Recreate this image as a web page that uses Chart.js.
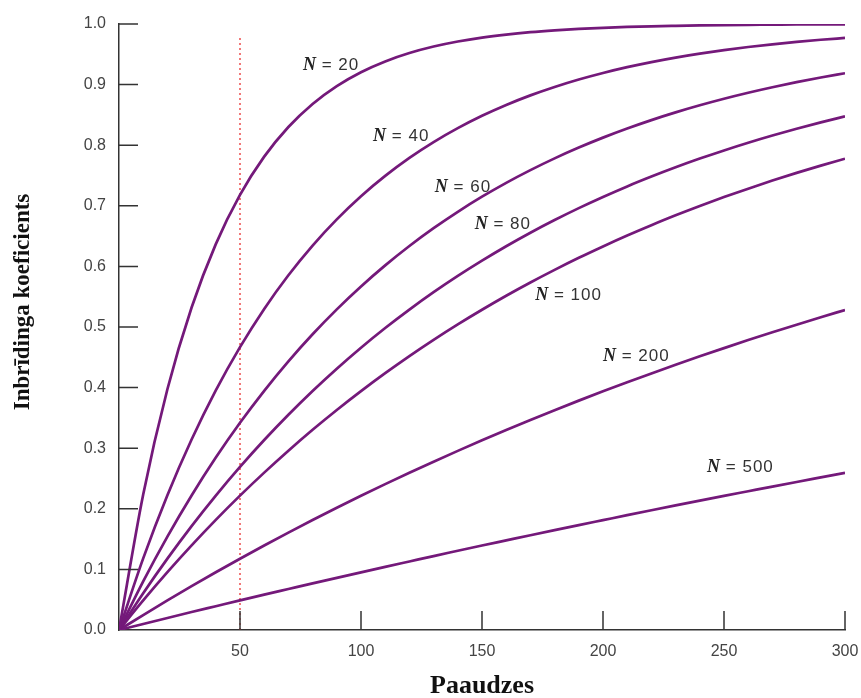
<!DOCTYPE html>
<html>
<head>
<meta charset="utf-8">
<script src="https://cdn.jsdelivr.net/npm/chart.js@4.4.0/dist/chart.umd.min.js"></script>
<style>
  body { margin: 0; background: #fff; }
  #wrap { width: 861px; height: 698px; }
</style>
</head>
<body>
<div id="wrap"><canvas id="mycanvas" width="861" height="698"></canvas></div>
<script>
// generations (x axis)
var generations = [0,10,20,30,40,50,60,70,80,90,100,110,120,130,140,150,160,170,180,190,200,210,220,230,240,250,260,270,280,290,300];

// inbreeding coefficient
var n20  = [0,0.2237,0.3973,0.5321,0.6368,0.7180,0.7811,0.8300,0.8681,0.8976,0.9205,0.9383,0.9521,0.9628,0.9711,0.9776,0.9826,0.9865,0.9895,0.9919,0.9937,0.9951,0.9962,0.9970,0.9977,0.9982,0.9986,0.9989,0.9992,0.9994,0.9995];
var n40  = [0,0.1182,0.2224,0.3143,0.3954,0.4668,0.5299,0.5854,0.6344,0.6776,0.7158,0.7493,0.7790,0.8051,0.8281,0.8485,0.8664,0.8822,0.8961,0.9084,0.9192,0.9288,0.9372,0.9446,0.9511,0.9569,0.9620,0.9665,0.9705,0.9740,0.9770];
var n60  = [0,0.0803,0.1541,0.2220,0.2845,0.3419,0.3947,0.4433,0.4880,0.5291,0.5669,0.6017,0.6337,0.6631,0.6901,0.7150,0.7379,0.7589,0.7783,0.7961,0.8125,0.8275,0.8414,0.8541,0.8658,0.8766,0.8865,0.8956,0.9040,0.9117,0.9188];
var n80  = [0,0.0608,0.1178,0.1715,0.2218,0.2691,0.3135,0.3552,0.3944,0.4312,0.4658,0.4983,0.5287,0.5574,0.5843,0.6095,0.6333,0.6556,0.6765,0.6962,0.7146,0.7320,0.7482,0.7635,0.7779,0.7914,0.8041,0.8160,0.8272,0.8377,0.8475];
var n100 = [0,0.0489,0.0954,0.1396,0.1817,0.2217,0.2597,0.2959,0.3304,0.3631,0.3942,0.4238,0.4520,0.4788,0.5043,0.5285,0.5516,0.5735,0.5943,0.6142,0.6330,0.6510,0.6680,0.6843,0.6997,0.7144,0.7283,0.7416,0.7543,0.7663,0.7777];
var n200 = [0,0.0247,0.0488,0.0723,0.0953,0.1176,0.1395,0.1607,0.1815,0.2017,0.2214,0.2407,0.2595,0.2778,0.2956,0.3130,0.3300,0.3466,0.3627,0.3785,0.3938,0.4088,0.4234,0.4377,0.4516,0.4651,0.4784,0.4913,0.5038,0.5161,0.5281];
var n500 = [0,0.0100,0.0198,0.0296,0.0392,0.0488,0.0583,0.0676,0.0769,0.0861,0.0952,0.1042,0.1131,0.1220,0.1307,0.1394,0.1479,0.1564,0.1648,0.1731,0.1813,0.1895,0.1976,0.2056,0.2135,0.2213,0.2290,0.2367,0.2443,0.2518,0.2593];

var seriesNames = ["20","40","60","80","100","200","500"];
var seriesValues = [n20, n40, n60, n80, n100, n200, n500];

// where the "N = .." labels sit (data units: generation, coefficient)
var labelGen  = [76, 105, 130.5, 147, 172, 200, 243];
var labelCoef = [0.932, 0.814, 0.731, 0.669, 0.553, 0.451, 0.268];

// red dotted marker at generation 50
var markerGen = 50;
var markerTop = 0.979;

var purple = "#74197a";

var datasets = [];
for (var s = 0; s < seriesValues.length; s++) {
	var pts = [];
	for (var i = 0; i < generations.length; i++) {
		pts.push({x: generations[i], y: seriesValues[s][i]});
	}
	datasets.push({
		label: "N = " + seriesNames[s],
		data: pts,
		borderColor: purple,
		borderWidth: 2.7,
		pointRadius: 0,
		fill: false,
		cubicInterpolationMode: "monotone"
	});
}
datasets.push({
	label: "marker",
	data: [{x: markerGen, y: 0}, {x: markerGen, y: markerTop}],
	borderColor: "rgba(235,55,55,0.95)",
	borderWidth: 1.4,
	borderDash: [2, 3],
	pointRadius: 0,
	fill: false,
	order: 10
});

// ticks drawn inward from the axes, plus titles and curve labels
var extras = {
	id: "extras",
	afterDraw: function(chart) {
		var ctx = chart.ctx;
		var xs = chart.scales.x, ys = chart.scales.y;
		var area = chart.chartArea;
		ctx.save();
		ctx.strokeStyle = "#333";
		ctx.lineWidth = 1.5;
		ctx.beginPath();
		xs.ticks.forEach(function(t) {
			if (t.value === 0) return;
			var px = xs.getPixelForValue(t.value);
			ctx.moveTo(px, area.bottom);
			ctx.lineTo(px, area.bottom - 19);
		});
		ys.ticks.forEach(function(t) {
			if (t.value === 0) return;
			var py = ys.getPixelForValue(t.value);
			ctx.moveTo(area.left, py);
			ctx.lineTo(area.left + 19, py);
		});
		ctx.stroke();

		// curve labels
		ctx.textBaseline = "middle";
		ctx.textAlign = "left";
		for (var k = 0; k < seriesNames.length; k++) {
			var lx = xs.getPixelForValue(labelGen[k]);
			var ly = ys.getPixelForValue(labelCoef[k]);
			ctx.letterSpacing = "0px";
			ctx.fillStyle = "#222";
			ctx.font = "italic bold 18px 'Liberation Serif'";
			ctx.fillText("N", lx, ly);
			var w = ctx.measureText("N").width;
			ctx.fillStyle = "#333";
			ctx.font = "17px 'Liberation Sans'";
			ctx.letterSpacing = "1px";
			ctx.fillText(" = " + seriesNames[k], lx + w, ly);
		}
		ctx.letterSpacing = "0px";

		// axis titles
		ctx.fillStyle = "#111";
		ctx.textAlign = "center";
		ctx.font = "bold 26px 'Liberation Serif'";
		ctx.fillText("Paaudzes", (area.left + area.right) / 2, 686);
		ctx.font = "bold 23px 'Liberation Serif'";
		ctx.translate(23, 302);
		ctx.rotate(-Math.PI / 2);
		ctx.fillText("Inbrīdinga koeficients", 0, 0);
		ctx.restore();
	}
};

var ctx = document.getElementById("mycanvas");
var chart = new Chart(ctx, {
	type: "line",
	data: {datasets: datasets},
	options: {
		responsive: false,
		animation: false,
		layout: {padding: {left: 0, right: 16, top: 24, bottom: 0}},
		plugins: {legend: {display: false}, tooltip: {enabled: false}},
		scales: {
			x: {
				type: "linear",
				min: 0, max: 300,
				afterFit: function(scale) {
					scale.height = 68;
					scale.paddingLeft = 0;
					scale.paddingRight = 0;
				},
				grid: {display: true, drawOnChartArea: false, drawTicks: false},
				border: {display: true, color: "#333", width: 1.5},
				ticks: {
					stepSize: 50,
					padding: 12,
					color: "#444",
					font: {family: "'Liberation Sans'", size: 16},
					callback: function(v) { return v === 0 ? "" : v; }
				}
			},
			y: {
				min: 0, max: 1,
				afterFit: function(scale) {
					scale.width = 119;
					scale.paddingTop = 0;
					scale.paddingBottom = 0;
				},
				grid: {display: true, drawOnChartArea: false, drawTicks: false},
				border: {display: true, color: "#333", width: 1.5},
				ticks: {
					stepSize: 0.1,
					padding: 13,
					color: "#444",
					font: {family: "'Liberation Sans'", size: 16},
					callback: function(v) { return v.toFixed(1); }
				}
			}
		}
	},
	plugins: [extras]
});
</script>
</body>
</html>
